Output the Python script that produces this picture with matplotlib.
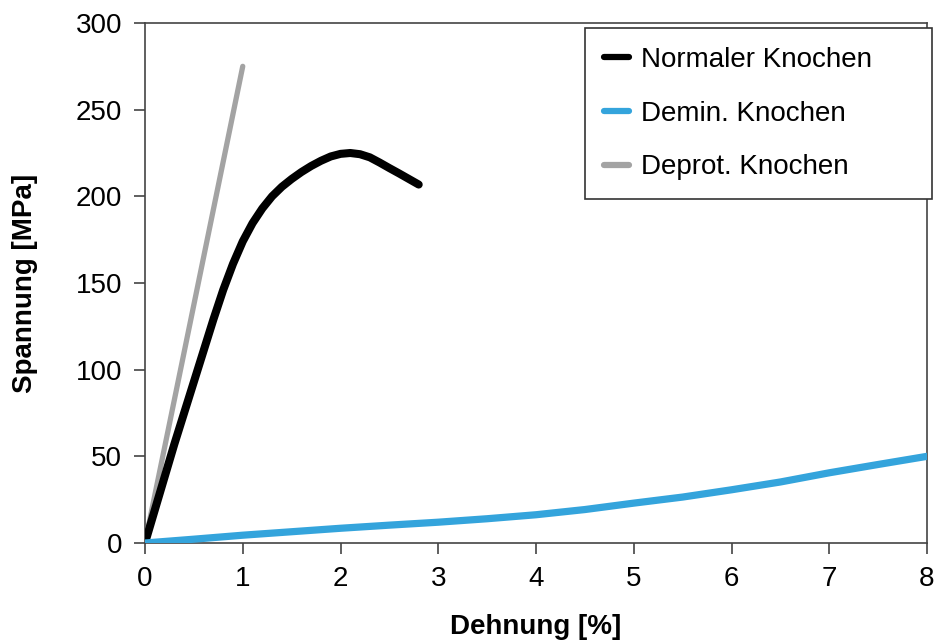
import numpy as np
import matplotlib.pyplot as plt

plt.rcParams["font.family"] = ["Liberation Sans", "DejaVu Sans"]

# Normaler Knochen
normal_x = [0, 0.1, 0.2, 0.3, 0.4, 0.5, 0.6, 0.7, 0.8, 0.9, 1.0, 1.1, 1.2, 1.3,
            1.4, 1.5, 1.6, 1.7, 1.8, 1.9, 2.0, 2.1, 2.2, 2.3, 2.4, 2.5, 2.6, 2.7, 2.8]
normal_y = [0, 19, 38, 57, 75, 93, 111, 129, 146, 161, 174, 184.5, 193, 200,
            205.5, 210, 214, 217.5, 220.5, 223, 224.5, 225, 224.3, 222.5, 219.5,
            216.3, 213.2, 210, 206.8]

# Demin. Knochen
demin_x = [0, 0.5, 1, 1.5, 2, 2.5, 3, 3.5, 4, 4.5, 5, 5.5, 6, 6.5, 7, 7.5, 8]
demin_y = [0, 2.2, 4.5, 6.5, 8.5, 10.3, 12, 14, 16.3, 19.3, 23, 26.5, 30.7, 35.2, 40.5, 45.3, 50]

# Deprot. Knochen
deprot_x = [0, 1.0]
deprot_y = [0, 275]

labels = ["Normaler Knochen", "Demin. Knochen", "Deprot. Knochen"]

fig = plt.figure(figsize=(9.35, 6.43), dpi=100)
ax = fig.add_axes([145 / 935, 1 - 543 / 643, (927 - 145) / 935, (543 - 23) / 643])

style = dict(solid_capstyle="round", solid_joinstyle="round")
ax.plot(deprot_x, deprot_y, color="#a3a3a3", lw=3.8, label=labels[2], zorder=3, **style)
ax.plot(normal_x, normal_y, color="black", lw=5.8, label=labels[0], zorder=4, **style)
ax.plot(demin_x, demin_y, color="#34a4dc", lw=5.2, label=labels[1], zorder=5, **style)

ax.set_xlim(0, 8)
ax.set_ylim(0, 300)
ax.set_xticks(range(0, 9))
ax.set_yticks(range(0, 301, 50))

for s in ax.spines.values():
    s.set_color("#444444")
    s.set_linewidth(1.2)
ax.tick_params(length=8, width=1.2, color="#444444", labelsize=20, pad=8.5)

ax.set_xlabel("Dehnung [%]", fontsize=20, fontweight="bold", labelpad=16)
ax.set_ylabel("Spannung [MPa]", fontsize=20, fontweight="bold", labelpad=27)

handles, labs = ax.get_legend_handles_labels()
order = [1, 2, 0]
leg = ax.legend([handles[i] for i in order], [labs[i] for i in order],
                loc="upper left", mode="expand",
                bbox_to_anchor=(585 / 935, 1 - 195 / 643, (932 - 585) / 935, (195 - 28) / 643),
                bbox_transform=fig.transFigure, borderaxespad=0,
                fontsize=20, handlelength=0.9, handletextpad=0.45,
                labelspacing=1.0, borderpad=0.68, fancybox=False, framealpha=1)
leg.get_frame().set_edgecolor("#333333")
leg.get_frame().set_linewidth(1.2)
for ln in leg.get_lines():
    ln.set_linewidth(4.5)

fig.savefig("out.png", dpi=100)
